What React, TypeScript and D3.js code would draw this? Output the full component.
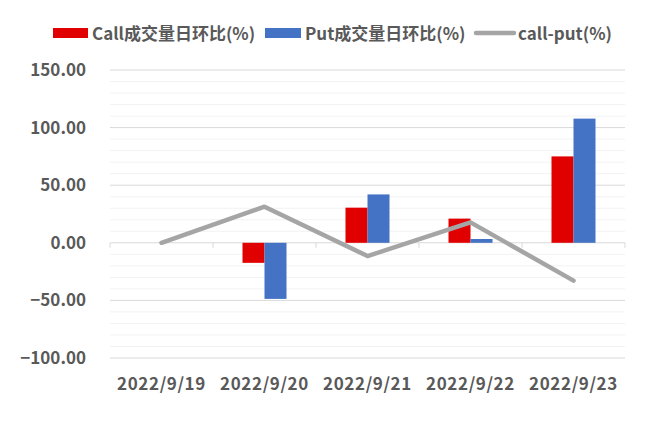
import React, { useEffect, useRef } from "react";
import * as d3 from "d3";

const dates = ["2022/9/19", "2022/9/20", "2022/9/21", "2022/9/22", "2022/9/23"];
const callValues = [0, -17.4, 30.5, 21, 75];
const putValues = [0, -48.7, 42, 3.3, 107.8];
const callPutValues = [0, 31.3, -11.5, 17.7, -32.8];
const yTicks = [150, 100, 50, 0, -50, -100];

const width = 645;
const height = 428;
const margin = { top: 70, right: 20, bottom: 70, left: 110 };

export default function App() {
  const ref = useRef<SVGSVGElement>(null);

  useEffect(() => {
    const svg = d3.select(ref.current);
    svg.selectAll("*").remove();

    const font = "'Noto Sans CJK SC', 'Noto Sans', sans-serif";
    const textColor = "#595959";

    const x = d3.scaleBand().domain(dates).range([margin.left, width - margin.right]);
    const y = d3.scaleLinear().domain([-100, 150]).range([height - margin.bottom, margin.top]);

    // minor grid
    const minor = d3.range(-100, 151, 10).filter(v => v % 50 !== 0);
    svg.append("g").selectAll("line").data(minor).join("line")
      .attr("x1", margin.left).attr("x2", width - margin.right)
      .attr("y1", d => y(d)).attr("y2", d => y(d))
      .attr("stroke", "#f2f2f2").attr("stroke-width", 1);

    // major grid
    svg.append("g").selectAll("line").data(yTicks).join("line")
      .attr("x1", margin.left).attr("x2", width - margin.right)
      .attr("y1", d => y(d)).attr("y2", d => y(d))
      .attr("stroke", "#d9d9d9").attr("stroke-width", 1);

    // y labels
    svg.append("g").selectAll("text").data(yTicks).join("text")
      .attr("x", 86).attr("y", d => y(d)).attr("dy", "0.35em")
      .attr("text-anchor", "end")
      .attr("font-family", font).attr("font-weight", "bold").attr("font-size", 17)
      .attr("fill", textColor)
      .text(d => d3.format(".2f")(d));

    // zero axis ticks
    const bounds = dates.map(d => x(d)!).concat([width - margin.right]);
    svg.append("g").selectAll("line").data(bounds).join("line")
      .attr("x1", d => d).attr("x2", d => d)
      .attr("y1", y(0)).attr("y2", y(0) + 5)
      .attr("stroke", "#d9d9d9");

    const barW = 22;
    const cx = (d: string) => x(d)! + x.bandwidth() / 2;

    svg.append("g").selectAll("rect").data(dates).join("rect")
      .attr("x", d => cx(d) - barW)
      .attr("width", barW)
      .attr("y", (d, i) => y(Math.max(0, callValues[i])))
      .attr("height", (d, i) => Math.abs(y(callValues[i]) - y(0)))
      .attr("fill", "#e00000");

    svg.append("g").selectAll("rect").data(dates).join("rect")
      .attr("x", d => cx(d))
      .attr("width", barW)
      .attr("y", (d, i) => y(Math.max(0, putValues[i])))
      .attr("height", (d, i) => Math.abs(y(putValues[i]) - y(0)))
      .attr("fill", "#4472c4");

    const line = d3.line<number>()
      .x((d, i) => cx(dates[i]))
      .y(d => y(d));
    svg.append("path")
      .datum(callPutValues)
      .attr("d", line)
      .attr("fill", "none")
      .attr("stroke", "#a5a5a5")
      .attr("stroke-width", 4.5)
      .attr("stroke-linecap", "round")
      .attr("stroke-linejoin", "round");

    // x labels
    svg.append("g").selectAll("text").data(dates).join("text")
      .attr("x", d => cx(d)).attr("y", 390)
      .attr("text-anchor", "middle")
      .attr("font-family", font).attr("font-weight", "bold").attr("font-size", 17)
      .attr("letter-spacing", 0.6)
      .attr("fill", textColor)
      .text(d => d);

    // legend
    const lg = svg.append("g").attr("font-family", font).attr("font-weight", "bold")
      .attr("font-size", 17).attr("fill", textColor);
    lg.append("rect").attr("x", 53).attr("y", 28).attr("width", 35).attr("height", 10).attr("fill", "#e00000");
    lg.append("text").attr("x", 92).attr("y", 40).text("Call成交量日环比(%)");
    lg.append("rect").attr("x", 265).attr("y", 28).attr("width", 36).attr("height", 10).attr("fill", "#4472c4");
    lg.append("text").attr("x", 305).attr("y", 40).text("Put成交量日环比(%)");
    lg.append("line").attr("x1", 476).attr("x2", 514).attr("y1", 33).attr("y2", 33)
      .attr("stroke", "#a5a5a5").attr("stroke-width", 4.5).attr("stroke-linecap", "round");
    lg.append("text").attr("x", 518).attr("y", 40).text("call-put(%)");
  }, []);

  return (
    <svg ref={ref} width={width} height={height}
      style={{ position: "absolute", left: 0, top: 0, background: "#fff" }} />
  );
}
